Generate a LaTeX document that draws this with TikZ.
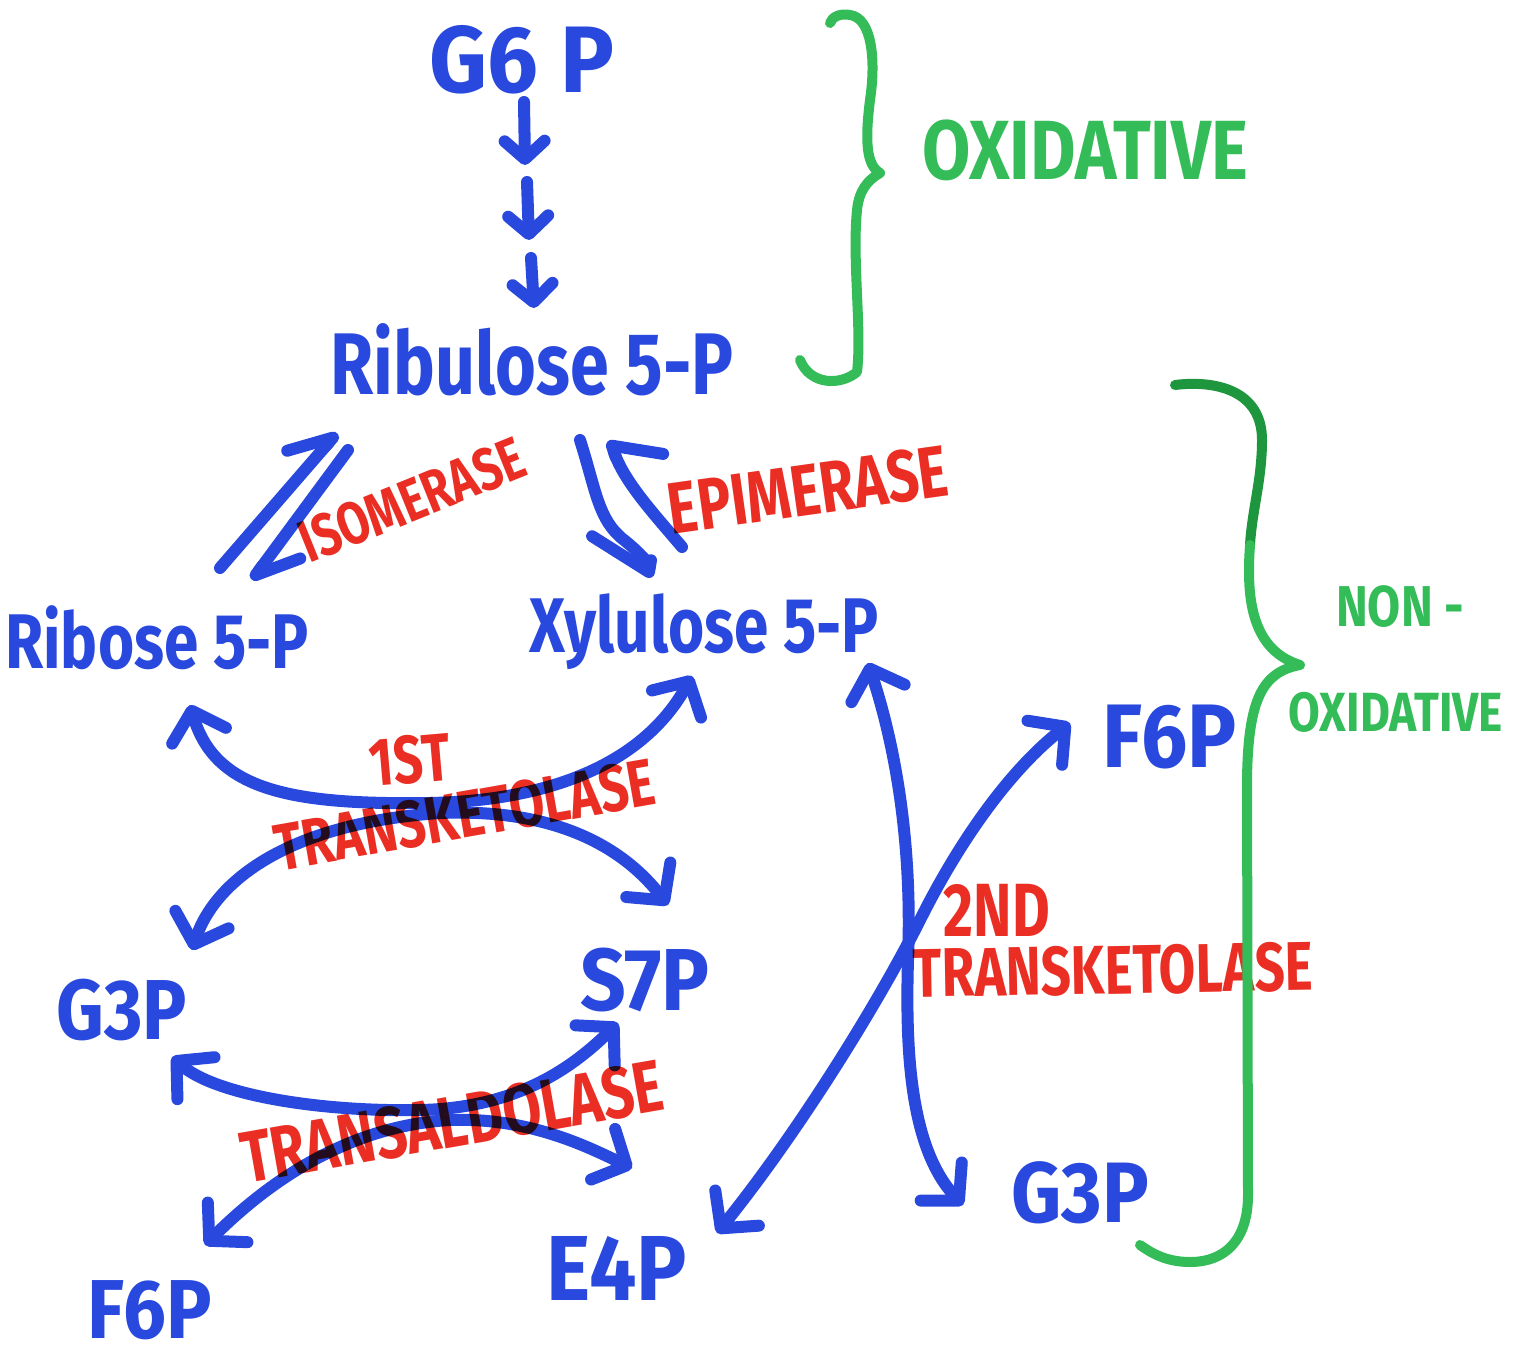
\documentclass[tikz,border=0pt]{standalone}
\usepackage{fontspec}
\usepackage{graphicx}
\setmainfont{Fira Sans}
\usetikzlibrary{arrows.meta}

\definecolor{ink}{RGB}{40,72,222}
\definecolor{mark}{RGB}{234,46,36}
\definecolor{leaf}{RGB}{52,188,88}
\definecolor{leafdark}{RGB}{30,150,62}

% marker lettering is a little taller than the font
\newcommand\lanky[2][1.25]{\scalebox{1}[#1]{#2}}

\tikzset{
  flow/.style={draw=ink, line width=6pt, line cap=round, line join=round},
  brace/.style={draw=leaf, line width=5pt, line cap=round, line join=round},
  mol/.style={text=ink, inner sep=0pt, font=\fontsize{#1}{#1}\selectfont\bfseries},
  enz/.style={text=mark, inner sep=0pt, font=\fontsize{#1}{#1}\selectfont\bfseries},
  zone/.style={text=leaf, inner sep=0pt, font=\fontsize{#1}{#1}\selectfont\bfseries},
  small tip/.style={-{Straight Barb[length=9pt,width=20pt,round]}},
  hook tip/.style={-{Straight Barb[harpoon,length=20pt,width=26pt,round]}},
}

\begin{document}
\begin{tikzpicture}[x=0.5pt,y=-0.5pt,
  >={Straight Barb[length=13pt,width=28pt,round]}]
\useasboundingbox[fill=white] (0,0) rectangle (1525,1359);

% ---- metabolites ----
\node[mol=45] (G6P)  at (522,60)   {\lanky[1.05]{G6 P}};
\node[mol=35] (Ru5P) at (532,360)  {\lanky{Ribulose 5-P}};
\node[mol=31] (R5P)  at (157,638)  {\lanky{Ribose 5-P}};
\node[mol=31] (X5P)  at (704,632)  {\lanky{Xylulose 5-P}};
\node[mol=37] (G3Pa) at (122,1010) {\lanky[1.15]{G3P}};
\node[mol=40] (S7P)  at (645,980)  {\lanky[1.1]{S7P}};
\node[mol=38] (F6Pa) at (150,1310) {\lanky[1.1]{F6P}};
\node[mol=42] (E4P)  at (617,1268) {\lanky[1.1]{E4P}};
\node[mol=41] (F6Pb) at (1170,737) {\lanky[1.1]{F6P}};
\node[mol=39] (G3Pb) at (1080,1193){\lanky[1.1]{G3P}};

% ---- oxidative steps ----
\coordinate (s1) at (524,102);
\coordinate (d1) at (525,165);
\coordinate (s2) at (527,182);
\coordinate (d2) at (529,240);
\coordinate (s3) at (531,258);
\coordinate (d3) at (534,308);
\draw[flow,small tip] (s1) -- (d1);
\draw[flow,small tip] (s2) -- (d2);
\draw[flow,small tip] (s3) -- (d3);

% ---- isomerase / epimerase ----
\coordinate (i1a) at (220,568);  \coordinate (i1b) at (337,433);
\coordinate (i2a) at (348,450);  \coordinate (i2b) at (252,580);
\draw[flow,hook tip] (i1a) -- (i1b);
\draw[flow,hook tip] (i2a) -- (i2b);

\coordinate (p1a) at (580,440);  \coordinate (p1b) at (648,578);
\coordinate (p2a) at (682,547);  \coordinate (p2b) at (610,440);
\draw[flow,-{Straight Barb[harpoon,swap,length=13pt,width=62pt,round]}]
  (p1a) .. controls (596,490) and (598,520) .. (624,540)
        .. controls (644,556) and (650,566) .. (p1b);
\draw[flow,-{Straight Barb[harpoon,swap,length=12pt,width=46pt,round]}]
  (p2a) .. controls (655,515) and (624,482) .. (p2b);

% ---- first transketolase ----
\coordinate (rA) at (190,705);   \coordinate (xA) at (692,676);
\coordinate (gB) at (192,950);   \coordinate (sB) at (668,905);
\draw[flow,<->] (rA) .. controls (215,790) and (290,805) .. (430,803)
                     .. controls (570,800) and (650,752) .. (xA);
\draw[flow,<->] (gB) .. controls (215,880) and (290,823) .. (440,813)
                     .. controls (560,808) and (625,850) .. (sB);

% ---- transaldolase ----
\coordinate (gC) at (172,1057);  \coordinate (sC) at (618,1023);
\coordinate (fD) at (205,1245);  \coordinate (eD) at (632,1168);
\draw[flow,<->] (gC) .. controls (215,1095) and (320,1112) .. (420,1110)
                     .. controls (520,1108) and (575,1065) .. (sC);
\draw[flow,<->] (fD) .. controls (280,1170) and (360,1125) .. (450,1120)
                     .. controls (530,1117) and (590,1148) .. (eD);

% ---- second transketolase ----
\coordinate (xE) at (868,663);   \coordinate (gE) at (963,1205);
\coordinate (eF) at (717,1233);  \coordinate (fF) at (1070,723);
\draw[flow,<->] (xE) .. controls (900,760) and (912,860) .. (908,960)
                     .. controls (905,1060) and (912,1150) .. (gE);
\draw[flow,<->] (eF) .. controls (800,1130) and (880,1000) .. (920,920)
                     .. controls (960,840) and (1010,770) .. (fF);

% ---- enzyme labels ----
\begin{scope}[blend mode=multiply]
\node[enz=23, rotate=22] (iso)  at (412,500)  {\lanky[1.3]{ISOMERASE}};
\node[enz=28, rotate=8]  (epi)  at (808,490)  {\lanky[1.3]{EPIMERASE}};
\node[enz=26, rotate=5]  (tk1n) at (410,760)  {\lanky[1.3]{1ST}};
\node[enz=25.5, rotate=10] (tk1) at (465,815) {\lanky[1.3]{TRANSKETOLASE}};
\node[enz=28, rotate=10] (ta)   at (452,1122) {\lanky[1.3]{TRANSALDOLASE}};
\node[enz=29]            (tk2n) at (997,910)  {\lanky[1.3]{2ND}};
\node[enz=26.5, rotate=1] (tk2) at (1113,970) {\lanky[1.3]{TRANSKETOLASE}};
\end{scope}

% ---- phase braces ----
\coordinate (b1a) at (800,360);  \coordinate (b1tip) at (880,173);
\coordinate (b1b) at (830,23);
\draw[brace] (b1a) .. controls (810,385) and (840,386) .. (857,372)
     .. controls (862,330) and (852,260) .. (857,210)
     .. controls (859,190) and (868,180) .. (b1tip)
     .. controls (866,165) and (865,140) .. (870,100)
     .. controls (876,60) and (872,18) .. (850,15)
     .. controls (840,13) and (832,17) .. (b1b);

\coordinate (b2a) at (1175,385); \coordinate (b2mid) at (1250,545);
\coordinate (b2tip) at (1300,665); \coordinate (b2b) at (1140,1245);
\draw[brace,draw=leafdark] (b2a) .. controls (1215,380) and (1262,390) .. (1262,440)
     .. controls (1262,480) and (1252,510) .. (b2mid);
\draw[brace] (b2mid) .. controls (1246,600) and (1252,650) .. (b2tip)
     .. controls (1262,672) and (1248,700) .. (1247,780)
     -- (1248,1195)
     .. controls (1248,1240) and (1225,1262) .. (1190,1262)
     .. controls (1165,1262) and (1150,1252) .. (b2b);

\node[zone=35] (ox)   at (1085,150) {\lanky[1.2]{OXIDATIVE}};
\node[zone=24] (non)  at (1400,607) {\lanky[1.2]{NON -}};
\node[zone=23] (nox)  at (1396,712) {\lanky[1.2]{OXIDATIVE}};
\end{tikzpicture}
\end{document}
